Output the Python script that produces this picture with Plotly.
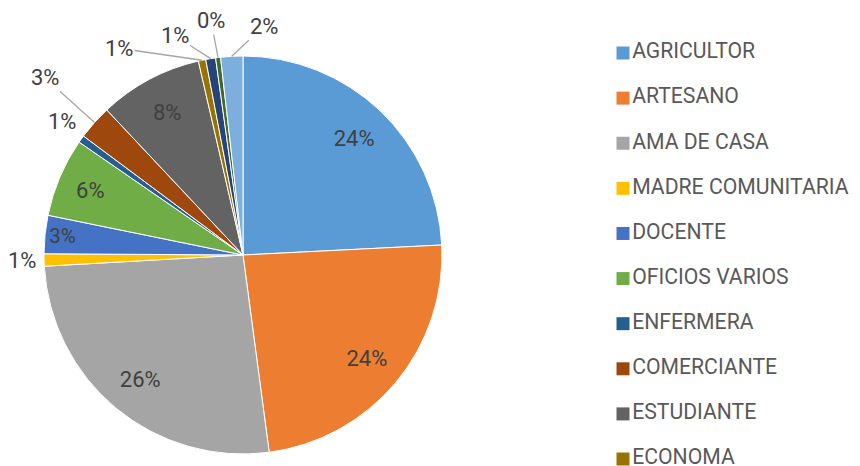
import math

import plotly.graph_objects as go

# Ocupación - porcentaje por categoría
labels = [
    "AGRICULTOR", "ARTESANO", "AMA DE CASA", "MADRE COMUNITARIA", "DOCENTE",
    "OFICIOS VARIOS", "ENFERMERA", "COMERCIANTE", "ESTUDIANTE", "ECONOMA",
    "PENSIONADO", "CONDUCTOR", "OTROS",
]
values = [24.2, 23.7, 26.2, 1.0, 3.1, 6.4, 0.6, 2.8, 8.4, 0.6, 0.8, 0.4, 1.8]
colors = [
    "#5B9BD5", "#ED7D31", "#A5A5A5", "#FFC000", "#4472C4", "#70AD47",
    "#255E91", "#9E480E", "#636363", "#997300", "#264478", "#43682B", "#7CAFDD",
]
legend_count = 10

# offsets (px) of the outside labels from the rim, and whether a leader line shows
outside_offsets = {
    3: (-22, 0, False),
    6: (-19, -18, False),
    7: (-50, -45, True),
    9: (-83, -12, True),
    10: (-36, -23, True),
    11: (-7, -37, True),
    12: (32, -30, True),
}

W, H = 860, 466
PAGE = 8  # the page body margin shifts the figure by 8px
pie_px = dict(x0=44 - PAGE, x1=442 - PAGE, y0=56 - PAGE, y1=454 - PAGE)
pie_domain = dict(
    x=[pie_px["x0"] / W, pie_px["x1"] / W],
    y=[1 - pie_px["y1"] / H, 1 - pie_px["y0"] / H],
)
cx = (pie_px["x0"] + pie_px["x1"]) / 2
cy = (pie_px["y0"] + pie_px["y1"]) / 2
radius = (pie_px["x1"] - pie_px["x0"]) / 2

total = sum(values)
inside_tpl = ["" if i in outside_offsets else "%{percent:.0%}" for i in range(len(values))]

fig = go.Figure()

# filled slices
fig.add_trace(
    go.Pie(
        labels=labels,
        values=values,
        sort=False,
        direction="clockwise",
        rotation=0,
        marker=dict(colors=colors, line=dict(color="white", width=1)),
        textinfo="none",
        domain=pie_domain,
        showlegend=False,
        hoverinfo="label+percent",
    )
)

# text layer: the hole pushes inside labels out towards the rim
fig.add_trace(
    go.Pie(
        labels=labels,
        values=values,
        sort=False,
        direction="clockwise",
        rotation=0,
        hole=0.62,
        marker=dict(colors=["rgba(0,0,0,0)"] * len(values), line=dict(width=0)),
        texttemplate=inside_tpl,
        textposition="inside",
        insidetextorientation="horizontal",
        textfont=dict(size=22, color="#404040"),
        domain=pie_domain,
        showlegend=False,
        hoverinfo="skip",
    )
)

# outside labels of the thin slices, anchored at each slice's mid angle
cum = 0.0
for i, v in enumerate(values):
    mid = (cum + v / 2) / total * 2 * math.pi
    cum += v
    if i not in outside_offsets:
        continue
    ax, ay, line = outside_offsets[i]
    px_x = cx + radius * math.sin(mid)
    px_y = cy - radius * math.cos(mid)
    fig.add_annotation(
        x=px_x,
        y=1 - px_y / H,
        xref="x",
        yref="paper",
        text=f"{round(v / total * 100)}%",
        showarrow=True,
        arrowhead=0,
        arrowwidth=1.3,
        arrowcolor="#A6A6A6" if line else "rgba(0,0,0,0)",
        standoff=0,
        ax=ax,
        ay=ay,
        font=dict(size=22, color="#404040"),
    )

# legend drawn as a marker column (the original only shows the first ten)
leg_names = labels[:legend_count]
leg_rows = list(range(legend_count))
fig.add_trace(
    go.Scatter(
        x=[615] * legend_count,
        y=leg_rows,
        mode="markers+text",
        text=leg_names,
        textposition="middle right",
        textfont=dict(size=21.2, color="#595959"),
        marker=dict(symbol="square", size=13, color=colors[:legend_count]),
        cliponaxis=False,
        hoverinfo="skip",
        showlegend=False,
    )
)

fig.update_layout(
    width=W,
    height=H,
    margin=dict(l=0, r=0, t=0, b=0, autoexpand=False),
    paper_bgcolor="white",
    plot_bgcolor="white",
    font=dict(family="Roboto, Calibri, sans-serif", color="#595959"),
    showlegend=False,
    xaxis=dict(visible=False, range=[0, W], domain=[0, 1]),
    yaxis=dict(visible=False, range=[9.332, -0.998], domain=[0, 1]),
)

fig.write_html("out.html")
